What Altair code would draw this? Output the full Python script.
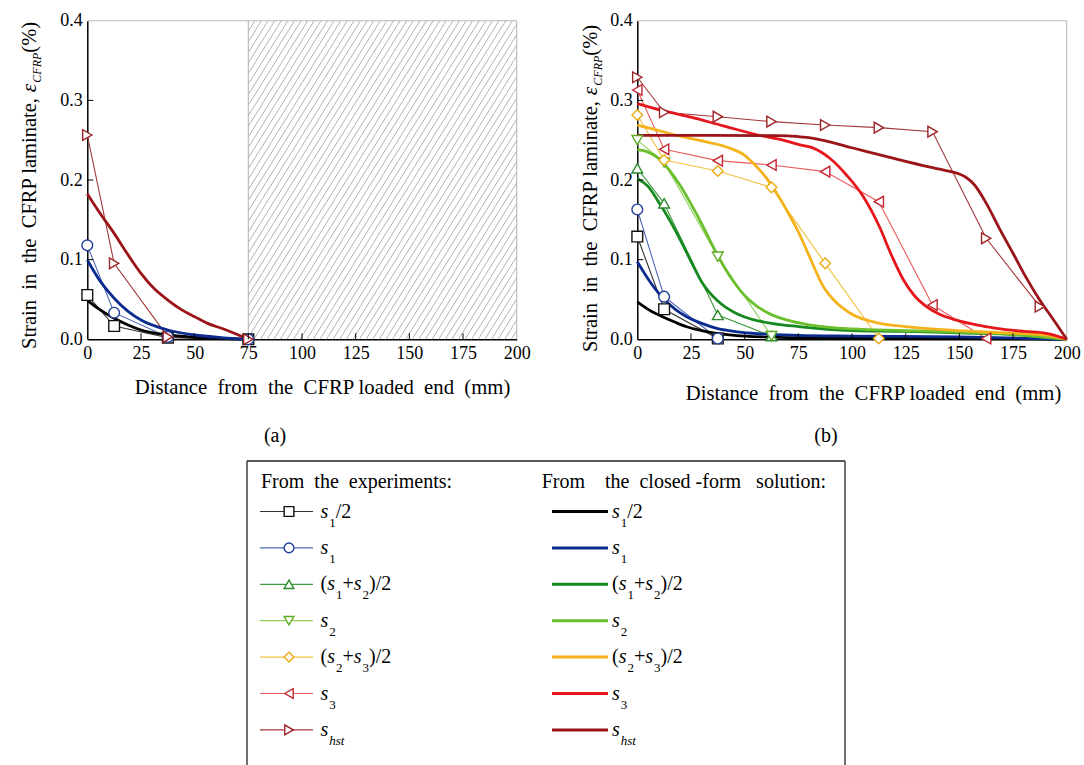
import altair as alt
import numpy as np
import pandas as pd

FONT = "Liberation Serif"
W, H = 1084, 765
# pixel ranges of the two plot areas
AX0, AX1 = 87.3, 516.7
BX0, BX1 = 637.3, 1066.7
YB, YT = 339.3, 20.7

# ---------------- data ----------------
SERIES = ["s1/2", "s1", "(s1+s2)/2", "s2", "(s2+s3)/2", "s3", "shst"]
X_TICKS = [0, 25, 50, 75, 100, 125, 150, 175, 200]
Y_TICKS = [0.0, 0.1, 0.2, 0.3, 0.4]
BONDED_A = 75

# panel (a) closed-form solution
a_cf_s12_x = [0, 6, 12.5, 19, 25, 37.5, 50, 62.5, 75]
a_cf_s12_y = [0.049, 0.037, 0.0264, 0.018, 0.0117, 0.0054, 0.0025, 0.001, 0.0]
a_cf_s1_x = [0, 6, 12.5, 19, 25, 37.5, 50, 62.5, 75]
a_cf_s1_y = [0.0996, 0.073, 0.0515, 0.035, 0.0242, 0.0117, 0.0054, 0.0022, 0.0]
a_cf_shst_x = [0, 6, 12.5, 19, 25, 31, 37.5, 44, 50, 56, 62.5, 69, 75]
a_cf_shst_y = [0.1826, 0.158, 0.133, 0.106, 0.0828, 0.064, 0.0493, 0.037, 0.0284, 0.02, 0.0138, 0.007, 0.0]
# panel (a) experiments
a_ex_x = [0, 12.5, 37.5, 75]
a_ex_s12_y = [0.0556, 0.0167, 0.002, 0.0]
a_ex_s1_y = [0.118, 0.0334, 0.003, 0.0]
a_ex_shst_y = [0.2565, 0.0954, 0.003, 0.0]

# panel (b) closed-form solution
b_cf_s12_x = [0, 6, 12, 18, 23, 30, 37, 50, 75, 100, 150, 200]
b_cf_s12_y = [0.047, 0.036, 0.028, 0.021, 0.0158, 0.011, 0.0075, 0.004, 0.002, 0.0015, 0.001, 0.0]
b_cf_s1_x = [0, 6, 12, 18, 23, 30, 37, 45, 54, 75, 100, 150, 200]
b_cf_s1_y = [0.0975, 0.072, 0.0515, 0.037, 0.0284, 0.02, 0.0138, 0.01, 0.0075, 0.005, 0.004, 0.003, 0.0]
b_cf_s12s2_x = [0, 5, 10, 15, 20, 25, 30, 37.5, 45, 50, 62.5, 75, 100, 125, 150, 175, 200]
b_cf_s12s2_y = [0.202, 0.192, 0.172, 0.15, 0.125, 0.098, 0.072, 0.048, 0.034, 0.028, 0.02, 0.016, 0.011, 0.01, 0.008, 0.006, 0.0]
b_cf_s2_x = [0, 5, 10, 15, 20, 25, 30, 35, 40, 45, 50, 55, 62.5, 70, 80, 100, 125, 150, 175, 200]
b_cf_s2_y = [0.238, 0.235, 0.227, 0.212, 0.193, 0.17, 0.145, 0.118, 0.093, 0.072, 0.055, 0.043, 0.031, 0.024, 0.018, 0.013, 0.011, 0.009, 0.006, 0.0]
b_cf_s2s3_x = [0, 10, 20, 30, 43, 50, 54, 60, 65, 70, 75, 80, 86.7, 92, 99, 113, 125, 137, 160, 180, 191, 200]
b_cf_s2s3_y = [0.269, 0.262, 0.255, 0.249, 0.24, 0.231, 0.221, 0.203, 0.183, 0.16, 0.135, 0.105, 0.066, 0.048, 0.033, 0.02, 0.016, 0.013, 0.0095, 0.007, 0.005, 0.0]
b_cf_s3_x = [0, 12, 25, 40, 58.7, 66.5, 75.8, 82, 89.8, 97.5, 105.3, 113, 118, 124, 129, 134.7, 141, 148.7, 158, 167.3, 180, 190.5, 200]
b_cf_s3_y = [0.296, 0.287, 0.279, 0.268, 0.255, 0.251, 0.244, 0.24, 0.227, 0.206, 0.179, 0.14, 0.108, 0.0745, 0.055, 0.041, 0.031, 0.024, 0.018, 0.0138, 0.01, 0.0075, 0.0]
b_cf_shst_x = [0, 35, 65, 70, 75, 82, 100, 113, 125, 137.5, 146, 150, 153, 157, 162.5, 168.5, 175, 181, 187.5, 194, 200]
b_cf_shst_y = [0.256, 0.256, 0.2557, 0.2555, 0.2545, 0.2524, 0.2405, 0.2315, 0.2235, 0.2155, 0.2105, 0.2075, 0.2035, 0.194, 0.171, 0.14, 0.108, 0.078, 0.049, 0.024, 0.0]
# panel (b) experiments
b_ex_s12_x = [0, 12.5, 37.5]
b_ex_s12_y = [0.129, 0.0377, 0.001]
b_ex_s1_x = [0, 12.5, 37.5]
b_ex_s1_y = [0.163, 0.0535, 0.001]
b_ex_s12s2_x = [0, 12.5, 37.5, 62.5]
b_ex_s12s2_y = [0.2147, 0.1707, 0.0305, 0.004]
b_ex_s2_x = [0, 12.5, 37.5, 62.5]
b_ex_s2_y = [0.25, 0.222, 0.1037, 0.004]
b_ex_s2s3_x = [0, 12.5, 37.5, 62.5, 87.5, 112.5]
b_ex_s2s3_y = [0.2816, 0.225, 0.2113, 0.1908, 0.0954, 0.001]
b_ex_s3_x = [0, 12.5, 37.5, 62.5, 87.5, 112.5, 137.5, 162.5]
b_ex_s3_y = [0.313, 0.2385, 0.2243, 0.2188, 0.2105, 0.1728, 0.043, 0.001]
b_ex_shst_x = [0, 12.5, 37.5, 62.5, 87.5, 112.5, 137.5, 162.5, 187.5]
b_ex_shst_y = [0.329, 0.285, 0.2795, 0.2733, 0.269, 0.2657, 0.2607, 0.1268, 0.041]

# ---------------- styles ----------------
CF_COLOR = {"s1/2": "#000000", "s1": "#0b2c8e", "(s1+s2)/2": "#16891f",
            "s2": "#6bbf2c", "(s2+s3)/2": "#f4b21b", "s3": "#e5171d", "shst": "#9b1518"}
EXP_LINE = {"s1/2": "#333333", "s1": "#4d69b3", "(s1+s2)/2": "#3f9a40",
            "s2": "#8fcf5a", "(s2+s3)/2": "#f3c043", "s3": "#ec5d5d", "shst": "#a3383a"}
EXP_MARK = {"s1/2": "#111111", "s1": "#22409b", "(s1+s2)/2": "#2b8b2c",
            "s2": "#5fab27", "(s2+s3)/2": "#eaab14", "s3": "#c42631", "shst": "#9c2326"}
SHAPE = {"s1/2": "square", "s1": "circle", "(s1+s2)/2": "triangle-up", "s2": "triangle-down",
         "(s2+s3)/2": "diamond", "s3": "triangle-left", "shst": "triangle-right"}

# Times / Liberation Serif advance widths (per 1000 em)
TR = {' ': 250, '\u00a0': 250, '(': 333, ')': 333, '%': 833, '+': 564, ',': 250, '-': 333,
      '.': 250, '/': 278, ':': 278,
      'A': 722, 'B': 667, 'C': 667, 'D': 722, 'E': 611, 'F': 556, 'G': 722, 'H': 722, 'I': 333,
      'L': 611, 'M': 889, 'N': 722, 'O': 722, 'P': 556, 'R': 667, 'S': 556, 'T': 611,
      'a': 444, 'b': 500, 'c': 444, 'd': 500, 'e': 444, 'f': 333, 'g': 500, 'h': 500, 'i': 278,
      'k': 500, 'l': 278, 'm': 778, 'n': 500, 'o': 500, 'p': 500, 'r': 333, 's': 389, 't': 278,
      'u': 500, 'v': 500, 'w': 722, 'x': 500, 'y': 500}
for d in "0123456789":
    TR[d] = 500
TI = {'s': 389, 'h': 500, 't': 278, 'C': 667, 'F': 611, 'R': 611, 'P': 611, '\u03b5': 440}


def tw(text, size, italic=False):
    table = TI if italic else TR
    return sum(table.get(ch, 500) for ch in text) * size / 1000.0


def long_df(items):
    rows = []
    for name, xs, ys in items:
        k = SERIES.index(name)
        for x, y in zip(xs, ys):
            rows.append({"series": name, "k": k, "x": x, "y": y, "cf": CF_COLOR[name],
                         "el": EXP_LINE[name], "em": EXP_MARK[name], "shape": SHAPE[name]})
    return pd.DataFrame(rows)


a_cf = long_df([("s1/2", a_cf_s12_x, a_cf_s12_y), ("s1", a_cf_s1_x, a_cf_s1_y),
                ("shst", a_cf_shst_x, a_cf_shst_y)])
a_ex = long_df([("s1/2", a_ex_x, a_ex_s12_y), ("s1", a_ex_x, a_ex_s1_y),
                ("shst", a_ex_x, a_ex_shst_y)])
b_cf = long_df([("s1/2", b_cf_s12_x, b_cf_s12_y), ("s1", b_cf_s1_x, b_cf_s1_y),
                ("(s1+s2)/2", b_cf_s12s2_x, b_cf_s12s2_y), ("s2", b_cf_s2_x, b_cf_s2_y),
                ("(s2+s3)/2", b_cf_s2s3_x, b_cf_s2s3_y), ("s3", b_cf_s3_x, b_cf_s3_y),
                ("shst", b_cf_shst_x, b_cf_shst_y)])
b_ex = long_df([("s1/2", b_ex_s12_x, b_ex_s12_y), ("s1", b_ex_s1_x, b_ex_s1_y),
                ("(s1+s2)/2", b_ex_s12s2_x, b_ex_s12s2_y), ("s2", b_ex_s2_x, b_ex_s2_y),
                ("(s2+s3)/2", b_ex_s2s3_x, b_ex_s2s3_y), ("s3", b_ex_s3_x, b_ex_s3_y),
                ("shst", b_ex_shst_x, b_ex_shst_y)])

ONE = pd.DataFrame({"v": [0]})


def hatch_df(x0px, x1px, spacing=6.6, angle=58):
    kx = (AX1 - AX0) / 200.0
    ky = (YB - YT) / 0.4
    xl = AX0 + BONDED_A * kx
    tn = np.tan(np.radians(angle))
    run = (YB - YT) / tn
    rows = []
    c = xl - run
    while c < x1px:
        sx, sy = c, YB
        ex, ey = c + run, YT
        if sx < xl:
            sy = YB - (xl - c) * tn
            sx = xl
        if ex > x1px:
            ey = YB - (x1px - c) * tn
            ex = x1px
        if ex > sx:
            rows.append({"x": (sx - AX0) / kx, "y": (YB - sy) / ky,
                         "x2": (ex - AX0) / kx, "y2": (YB - ey) / ky})
        c += spacing
    return pd.DataFrame(rows)


def ytitle(xb, ybottom):
    pieces = [("Strain\u00a0 in\u00a0 the\u00a0 CFRP laminate,\u00a0", "normal", 20.5, 0),
              ("\u03b5", "italic", 21.5, 0),
              ("CFRP", "italic", 12, 5),
              ("\u00a0(%)", "normal", 20.5, 0)]
    layers = []
    pos = ybottom
    for text, style, size, shift in pieces:
        layers.append(alt.Chart(ONE).mark_text(
            text=text, angle=270, align="left", baseline="alphabetic", font=FONT,
            fontSize=size, fontStyle=style, color="black").encode(
            x=alt.value(xb + shift), y=alt.value(pos)))
        pos -= tw(text, size, style == "italic")
    return layers


def panel(x0, x1, cf, ex, title_x, title_y, hatch=None, ytitle_x=36, ytitle_bottom=347):
    xs = alt.Scale(domain=[0, 200], range=[x0, x1], nice=False, zero=False)
    ys = alt.Scale(domain=[0, 0.4], range=[YB, YT], nice=False, zero=False)
    xaxis = alt.Axis(orient="bottom", offset=YB - H, values=X_TICKS, format="d",
                     labelFont=FONT, labelFontSize=18, labelColor="black", labelPadding=5,
                     labelFlush=False, labelOverlap=False, labelBound=False,
                     ticks=False, tickSize=0, grid=False, domainColor="black", domainWidth=1.5,
                     title="Distance\u00a0 from\u00a0 the\u00a0 CFRP loaded\u00a0 end\u00a0 (mm)",
                     titleFont=FONT, titleFontSize=20.7, titleFontWeight="normal",
                     titleColor="black", titleX=title_x, titleY=title_y,
                     titleBaseline="alphabetic", titleAlign="center")
    yaxis = alt.Axis(orient="left", offset=-x0, values=Y_TICKS, format=".1f",
                     labelFont=FONT, labelFontSize=18, labelColor="black", labelPadding=5,
                     labelFlush=False, labelOverlap=False, labelBound=False,
                     ticks=False, tickSize=0, grid=False, domainColor="black", domainWidth=1.5,
                     title=None)

    def X(f="x"):
        return alt.X(f, type="quantitative", scale=xs, axis=xaxis)

    def Y(f="y"):
        return alt.Y(f, type="quantitative", scale=ys, axis=yaxis)

    frame_rows = [{"x": 0, "y": 0.4, "x2": 200, "y2": 0.4},
                  {"x": 200, "y": 0, "x2": 200, "y2": 0.4}]
    if hatch is not None:
        frame_rows.append({"x": BONDED_A, "y": 0, "x2": BONDED_A, "y2": 0.4})
    layers = []
    if hatch is not None:
        layers.append(alt.Chart(hatch).mark_rule(color="#a9a9a9", strokeWidth=0.9).encode(
            x=X(), y=Y(), x2="x2", y2="y2"))
    layers.append(alt.Chart(pd.DataFrame(frame_rows)).mark_rule(
        color="#b8b8b8", strokeWidth=1.1).encode(x=X(), y=Y(), x2="x2", y2="y2"))
    layers.append(alt.Chart(ex).mark_line(strokeWidth=1.1).encode(
        x=X(), y=Y(), detail="k:N", order="x:Q", stroke=alt.Stroke("el:N", scale=None)))
    layers.append(alt.Chart(cf).mark_line(strokeWidth=2.8, interpolate="monotone").encode(
        x=X(), y=Y(), detail="k:N", order="x:Q", stroke=alt.Stroke("cf:N", scale=None)))
    layers.append(alt.Chart(ex).mark_point(filled=True, size=115, strokeWidth=1.4, opacity=1).encode(
        x=X(), y=Y(), fill=alt.value("white"), stroke=alt.Stroke("em:N", scale=None),
        shape=alt.Shape("shape:N", scale=None)))
    tl_y = 6.0 / ((YB - YT) / 0.4)
    tl_x = 6.0 / ((x1 - x0) / 200.0)
    xt = pd.DataFrame({"x": X_TICKS[1:-1], "y": 0.0, "y2": tl_y})
    yt = pd.DataFrame({"x": 0.0, "x2": tl_x, "y": Y_TICKS[1:-1]})
    layers.append(alt.Chart(xt).mark_rule(color="black", strokeWidth=1).encode(
        x=X(), y=Y(), y2="y2"))
    layers.append(alt.Chart(yt).mark_rule(color="black", strokeWidth=1).encode(
        x=X(), x2="x2", y=Y()))
    layers += ytitle(ytitle_x, ytitle_bottom)
    return alt.layer(*layers)


panel_a = panel(AX0, AX1, a_cf, a_ex, 322, 53.7, hatch=hatch_df(AX0, AX1),
                ytitle_x=36, ytitle_bottom=349)
panel_b = panel(BX0, BX1, b_cf, b_ex, 873, 59.7, ytitle_x=597, ytitle_bottom=352)

# ---------------- legend ----------------
LABELS = {
    "s1/2": [("s", "i"), ("1", "sub"), ("/2", "r")],
    "s1": [("s", "i"), ("1", "sub")],
    "(s1+s2)/2": [("(", "r"), ("s", "i"), ("1", "sub"), ("+", "r"), ("s", "i"), ("2", "sub"), (")/2", "r")],
    "s2": [("s", "i"), ("2", "sub")],
    "(s2+s3)/2": [("(", "r"), ("s", "i"), ("2", "sub"), ("+", "r"), ("s", "i"), ("3", "sub"), (")/2", "r")],
    "s3": [("s", "i"), ("3", "sub")],
    "shst": [("s", "i"), ("hst", "subi")],
}
MAIN, SUB = 20, 13
LEFT_TEXT_X, RIGHT_TEXT_X = 320.5, 612.0

seg_rows = []
for k, name in enumerate(SERIES):
    for x0 in (LEFT_TEXT_X, RIGHT_TEXT_X):
        x = x0
        for text, kind in LABELS[name]:
            size = MAIN if kind in ("r", "i") else SUB
            seg_rows.append({"row": k, "px": x, "text": text, "kind": kind})
            x += tw(text, size, kind in ("i", "subi")) + (1.0 if kind == "i" else 0.0)
seg_df = pd.DataFrame(seg_rows)
leg_df = pd.DataFrame({"row": list(range(len(SERIES))),
                       "el": [EXP_LINE[s] for s in SERIES], "em": [EXP_MARK[s] for s in SERIES],
                       "cf": [CF_COLOR[s] for s in SERIES], "shape": [SHAPE[s] for s in SERIES]})

row_scale = alt.Scale(domain=[0, 6], range=[511.5, 729.9])
px_scale = alt.Scale(domain=[0, W], range=[0, W])
LY = alt.Y("row:Q", scale=row_scale, axis=None)
LX = alt.X("px:Q", scale=px_scale, axis=None)

leg_layers = [
    alt.Chart(leg_df).mark_rule(strokeWidth=1.2).encode(
        x=alt.value(260), x2=alt.value(313), y=LY, stroke=alt.Stroke("el:N", scale=None)),
    alt.Chart(leg_df).mark_point(filled=True, size=95, strokeWidth=1.4, opacity=1).encode(
        x=alt.value(289), y=LY, fill=alt.value("white"), stroke=alt.Stroke("em:N", scale=None),
        shape=alt.Shape("shape:N", scale=None)),
    alt.Chart(leg_df).mark_rule(strokeWidth=3).encode(
        x=alt.value(552), x2=alt.value(608), y=LY, stroke=alt.Stroke("cf:N", scale=None)),
]
for kind, size, style, dy in [("r", MAIN, "normal", 6), ("i", MAIN, "italic", 6),
                              ("sub", SUB, "normal", 15), ("subi", SUB, "italic", 15)]:
    leg_layers.append(alt.Chart(seg_df).transform_filter(alt.datum.kind == kind).mark_text(
        align="left", baseline="alphabetic", font=FONT, fontSize=size, fontStyle=style,
        color="black", dy=dy).encode(x=LX, y=LY, text="text:N"))

for text, x in [("From\u00a0 the\u00a0 experiments:", 261),
                ("From\u00a0\u00a0\u00a0 the\u00a0 closed\u00a0-form\u00a0\u00a0 solution:", 541.7)]:
    leg_layers.append(alt.Chart(ONE).mark_text(
        text=text, align="left", baseline="alphabetic", font=FONT, fontSize=20,
        color="black").encode(x=alt.value(x), y=alt.value(488)))
for text, x in [("(a)", 275), ("(b)", 826)]:
    leg_layers.append(alt.Chart(ONE).mark_text(
        text=text, align="center", baseline="middle", font=FONT, fontSize=20,
        color="black").encode(x=alt.value(x), y=alt.value(436)))
# legend box
leg_layers.append(alt.Chart(ONE).mark_rule(color="#222222", strokeWidth=1.3).encode(
    x=alt.value(247), x2=alt.value(845), y=alt.value(461)))
leg_layers.append(alt.Chart(ONE).mark_rule(color="#222222", strokeWidth=1.3).encode(
    x=alt.value(247), y=alt.value(461), y2=alt.value(H)))
leg_layers.append(alt.Chart(ONE).mark_rule(color="#222222", strokeWidth=1.3).encode(
    x=alt.value(845), y=alt.value(461), y2=alt.value(H)))
legend = alt.layer(*leg_layers)

chart = alt.layer(panel_a, panel_b, legend).resolve_scale(
    x="independent", y="independent").properties(
    width=W, height=H, autosize=alt.AutoSizeParams(type="none"), padding=0,
    background="white").configure_view(stroke=None)

chart.save("out.html", embed_options={"renderer": "svg", "actions": False})
